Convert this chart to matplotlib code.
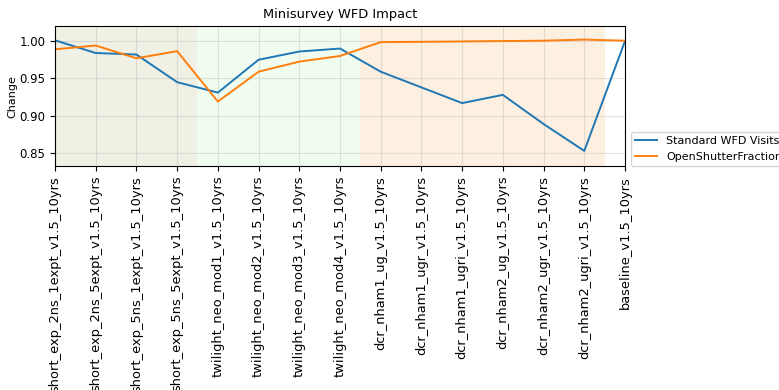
import numpy as np
import matplotlib
matplotlib.use('Agg')
import matplotlib.pyplot as plt

runs = ['short_exp_2ns_1expt_v1.5_10yrs', 'short_exp_2ns_5expt_v1.5_10yrs',
        'short_exp_5ns_1expt_v1.5_10yrs', 'short_exp_5ns_5expt_v1.5_10yrs',
        'twilight_neo_mod1_v1.5_10yrs', 'twilight_neo_mod2_v1.5_10yrs',
        'twilight_neo_mod3_v1.5_10yrs', 'twilight_neo_mod4_v1.5_10yrs',
        'dcr_nham1_ug_v1.5_10yrs', 'dcr_nham1_ugr_v1.5_10yrs',
        'dcr_nham1_ugri_v1.5_10yrs', 'dcr_nham2_ug_v1.5_10yrs',
        'dcr_nham2_ugr_v1.5_10yrs', 'dcr_nham2_ugri_v1.5_10yrs',
        'baseline_v1.5_10yrs']

wfd_visits = [1.001, 0.984, 0.982, 0.945, 0.931, 0.975, 0.986, 0.990,
              0.959, 0.938, 0.917, 0.928, 0.889, 0.853, 1.000]
open_shutter = [0.989, 0.994, 0.977, 0.9865, 0.919, 0.959, 0.9725, 0.980,
                0.9986, 0.999, 0.9995, 1.000, 1.0005, 1.002, 1.0005]

# family groups: (first index, last index, colour)
groups = [(0, 3, '#f1f0e4'), (4, 7, '#f0fcf0'), (8, 13, '#fdf0e1')]

fig = plt.figure(figsize=(7.79, 3.9), dpi=100)
ax = fig.add_axes([0.0706, 0.574, 0.7317, 0.359])

x = np.arange(len(runs))
for lo, hi, c in groups:
    ax.axvspan(max(lo - 0.5, 0), hi + 0.5, color=c, lw=0, zorder=0)

ax.plot(x, wfd_visits, color='tab:blue', lw=1.4, label='Standard WFD Visits')
ax.plot(x, open_shutter, color='tab:orange', lw=1.4, label='OpenShutterFraction')

ax.set_xlim(0, len(runs) - 1)
ax.set_ylim(0.8326, 1.02)
ax.set_xticks(x)
ax.set_xticklabels(runs, rotation=90, fontsize=9.4)
ax.set_yticks([0.85, 0.90, 0.95, 1.00])
ax.tick_params(axis='y', labelsize=8.5)
ax.set_ylabel('Change', fontsize=8)
ax.yaxis.set_label_coords(-0.066, 0.5)
ax.set_title('Minisurvey WFD Impact', fontsize=9.4)
ax.grid(True, alpha=0.35)
ax.legend(loc='lower left', bbox_to_anchor=(1.01, 0), borderaxespad=0,
          fontsize=8)

plt.savefig('out.png', dpi=100)
